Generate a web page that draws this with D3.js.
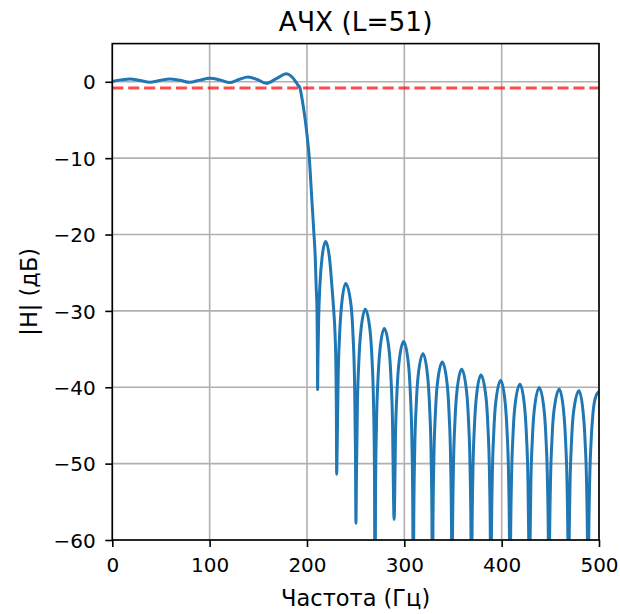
<!DOCTYPE html>
<html>
<head>
<meta charset="utf-8">
<script src="https://cdn.jsdelivr.net/npm/d3@7"></script>
<style>
  html, body { margin: 0; padding: 0; background: #ffffff; }
  svg { display: block; }
  text { font-family: "DejaVu Sans", sans-serif; fill: #000; }
</style>
</head>
<body>
<script>
// ---------------- data ----------------
const chartTitle = "АЧХ (L=51)";
const xLabel = "Частота (Гц)";
const yLabel = "|H| (дБ)";
const xTicks = [0, 100, 200, 300, 400, 500];
const yTicks = [0, -10, -20, -30, -40, -50, -60];
const xDomain = [0, 500];
const yDomain = [-60, 5];
const thresholdDb = -0.8;

// passband + transition band
const passFreq = [0, 9, 18, 28.5, 38.5, 49, 59, 69.5, 79.6, 90, 100, 110.5, 120.6, 130, 139.4, 149, 158.3, 169, 179, 184, 188, 190.5, 192.8, 194.5, 196.3, 198.2, 200, 202.4, 204.8, 207.2, 208.5, 209.4, 210.3, 210.7];
const passDb   = [0.05, 0.25, 0.37, 0.18, -0.07, 0.18, 0.37, 0.2, -0.07, 0.22, 0.45, 0.25, -0.1, 0.3, 0.63, 0.3, -0.2, 0.45, 1.05, 0.7, 0.1, -0.4, -0.8, -1.9, -3.3, -5.0, -6.9, -10, -15, -20, -23, -26.7, -30, -35];

// stopband side lobes
const stopFreq = [
  210.9, 211.3, 212.0, 213.4, 215.5, 219.2, 223.5, 225.4, 227.5, 228.8, 229.8, 230.2,
  230.5, 231.0, 232.0, 233.5, 235.5, 239.8, 245.3, 247.3, 248.8, 249.8,
  250.3, 250.8, 251.8, 253.3, 255.3, 259.9, 264.9, 266.9, 268.4, 269.4,
  269.9, 270.4, 271.4, 272.9, 274.9, 279.4, 284.4, 286.4, 287.9, 288.9,
  289.4, 289.9, 290.9, 292.4, 294.4, 299.3, 304.2, 306.2, 307.7, 308.7,
  309.2, 309.7, 310.7, 312.2, 314.2, 319.2, 323.9, 325.9, 327.4, 328.4,
  328.9, 329.4, 330.4, 331.9, 333.9, 339.0, 344.0, 346.0, 347.5, 348.5,
  349.0, 349.5, 350.5, 352.0, 354.0, 358.9, 364.0, 366.0, 367.5, 368.5,
  369.0, 369.5, 370.5, 372.0, 374.0, 378.7, 383.9, 385.9, 387.4, 388.4,
  388.9, 389.4, 390.4, 391.9, 393.9, 399.0, 403.6, 405.6, 407.1, 408.1,
  408.6, 409.1, 410.1, 411.6, 413.6, 418.8, 423.5, 425.5, 427.0, 428.0,
  428.5, 429.0, 430.0, 431.5, 433.5, 438.6, 443.6, 445.6, 447.1, 448.1,
  448.6, 449.1, 450.1, 451.6, 453.6, 459.2, 463.7, 465.7, 467.2, 468.2,
  468.7, 469.2, 470.2, 471.7, 473.7, 479.4, 483.8, 485.8, 487.3, 488.3,
  488.8, 489.3, 490.3, 491.8, 493.8, 496.5, 500.0
];
const stopDb = [
  -40.3, -36.0, -31.0, -26.4, -23.0, -20.9, -23.5, -26.4, -30.0, -32.9, -38.0, -43.0,
  -51.4, -48.0, -38.9, -33.2, -29.3, -26.4, -29.3, -33.2, -38.9, -48.4,
  -57.8, -51.8, -42.3, -36.6, -32.7, -29.8, -32.7, -36.6, -42.3, -51.8,
  -75.0, -54.3, -44.8, -39.1, -35.2, -32.3, -35.2, -39.1, -44.8, -54.3,
  -57.3, -56.0, -46.5, -40.8, -36.9, -34.0, -36.9, -40.8, -46.5, -56.0,
  -72.0, -57.6, -48.1, -42.4, -38.5, -35.6, -38.5, -42.4, -48.1, -57.6,
  -80.0, -58.7, -49.2, -43.5, -39.6, -36.7, -39.6, -43.5, -49.2, -58.7,
  -70.0, -59.7, -50.2, -44.5, -40.6, -37.65, -40.6, -44.5, -50.2, -59.7,
  -78.0, -60.4, -50.9, -45.2, -41.3, -38.4, -41.3, -45.2, -50.9, -60.4,
  -72.0, -61.1, -51.6, -45.9, -42.0, -39.1, -42.0, -45.9, -51.6, -61.1,
  -85.0, -61.6, -52.1, -46.4, -42.5, -39.6, -42.5, -46.4, -52.1, -61.6,
  -70.0, -62.0, -52.6, -46.9, -43.0, -40.05, -43.0, -46.9, -52.6, -62.0,
  -78.0, -62.3, -52.8, -47.1, -43.2, -40.25, -43.2, -47.1, -52.8, -62.3,
  -73.0, -62.5, -53.0, -47.3, -43.4, -40.45, -43.4, -47.3, -53.0, -62.5,
  -82.0, -62.5, -53.0, -47.3, -43.4, -41.3, -40.55
];

// ---------------- drawing ----------------
const W = 620, H = 614;
const plot = { left: 112.3, right: 599, top: 43.6, bottom: 540 };

const svg = d3.select("body").append("svg")
  .attr("width", W).attr("height", H)
  .attr("viewBox", `0 0 ${W} ${H}`);

const x = d3.scaleLinear().domain(xDomain).range([plot.left, plot.right]);
const y = d3.scaleLinear().domain(yDomain).range([plot.bottom, plot.top]);

svg.append("defs").append("clipPath").attr("id", "clip")
  .append("rect")
  .attr("x", plot.left).attr("y", plot.top)
  .attr("width", plot.right - plot.left).attr("height", plot.bottom - plot.top);

// grid
const grid = svg.append("g").attr("class", "grid");
grid.selectAll("line.vx").data(xTicks).join("line")
  .attr("x1", d => x(d)).attr("x2", d => x(d))
  .attr("y1", plot.top).attr("y2", plot.bottom)
  .attr("stroke", "#b0b0b0").attr("stroke-width", 1.6);
grid.selectAll("line.hy").data(yTicks).join("line")
  .attr("x1", plot.left).attr("x2", plot.right)
  .attr("y1", d => y(d)).attr("y2", d => y(d))
  .attr("stroke", "#b0b0b0").attr("stroke-width", 1.6);

// response line
const pts = passFreq.map((f, i) => [f, passDb[i]])
  .concat(stopFreq.map((f, i) => [f, stopDb[i]]));

const line = d3.line()
  .x(d => x(d[0])).y(d => y(d[1]))
  .curve(d3.curveMonotoneX);

const g = svg.append("g").attr("clip-path", "url(#clip)");
g.append("path")
  .datum(pts)
  .attr("d", line)
  .attr("fill", "none")
  .attr("stroke", "#1f77b4")
  .attr("stroke-width", 3)
  .attr("stroke-linejoin", "round");

// threshold dashed line
g.append("line")
  .attr("x1", x(xDomain[0])).attr("x2", x(xDomain[1]))
  .attr("y1", y(thresholdDb)).attr("y2", y(thresholdDb))
  .attr("stroke", "rgb(255,0,0)").attr("stroke-opacity", 0.7)
  .attr("stroke-width", 3)
  .attr("stroke-dasharray", "11.1,4.8");

// axes
const fmt = d => (d < 0 ? "\u2212" + Math.abs(d) : String(d));

const xAxis = svg.append("g")
  .attr("transform", `translate(0,${plot.bottom})`)
  .call(d3.axisBottom(x).tickValues(xTicks).tickFormat(fmt).tickSize(7).tickPadding(7));
xAxis.select(".domain").remove();
xAxis.selectAll(".tick line").attr("stroke", "#000").attr("stroke-width", 1.6);
xAxis.selectAll(".tick text")
  .attr("font-size", 20).attr("font-family", "DejaVu Sans, sans-serif")
  .attr("y", 32).attr("dy", 0);

const yAxis = svg.append("g")
  .attr("transform", `translate(${plot.left},0)`)
  .call(d3.axisLeft(y).tickValues(yTicks).tickFormat(fmt).tickSize(7).tickPadding(9.5));
yAxis.select(".domain").remove();
yAxis.selectAll(".tick line").attr("stroke", "#000").attr("stroke-width", 1.6);
yAxis.selectAll(".tick text")
  .attr("font-size", 20).attr("font-family", "DejaVu Sans, sans-serif")
  .attr("dy", "0.36em");

// spines
svg.append("rect")
  .attr("x", plot.left).attr("y", plot.top)
  .attr("width", plot.right - plot.left).attr("height", plot.bottom - plot.top)
  .attr("fill", "none").attr("stroke", "#000").attr("stroke-width", 1.6);

// title & labels
svg.append("text")
  .attr("x", (plot.left + plot.right) / 2).attr("y", 31)
  .attr("text-anchor", "middle").attr("font-size", 26.4)
  .text(chartTitle);

svg.append("text")
  .attr("x", (plot.left + plot.right) / 2).attr("y", 606)
  .attr("text-anchor", "middle").attr("font-size", 22.5)
  .text(xLabel);

svg.append("text")
  .attr("transform", `translate(37,${(plot.top + plot.bottom) / 2}) rotate(-90)`)
  .attr("text-anchor", "middle").attr("font-size", 22.5)
  .text(yLabel);
</script>
</body>
</html>
